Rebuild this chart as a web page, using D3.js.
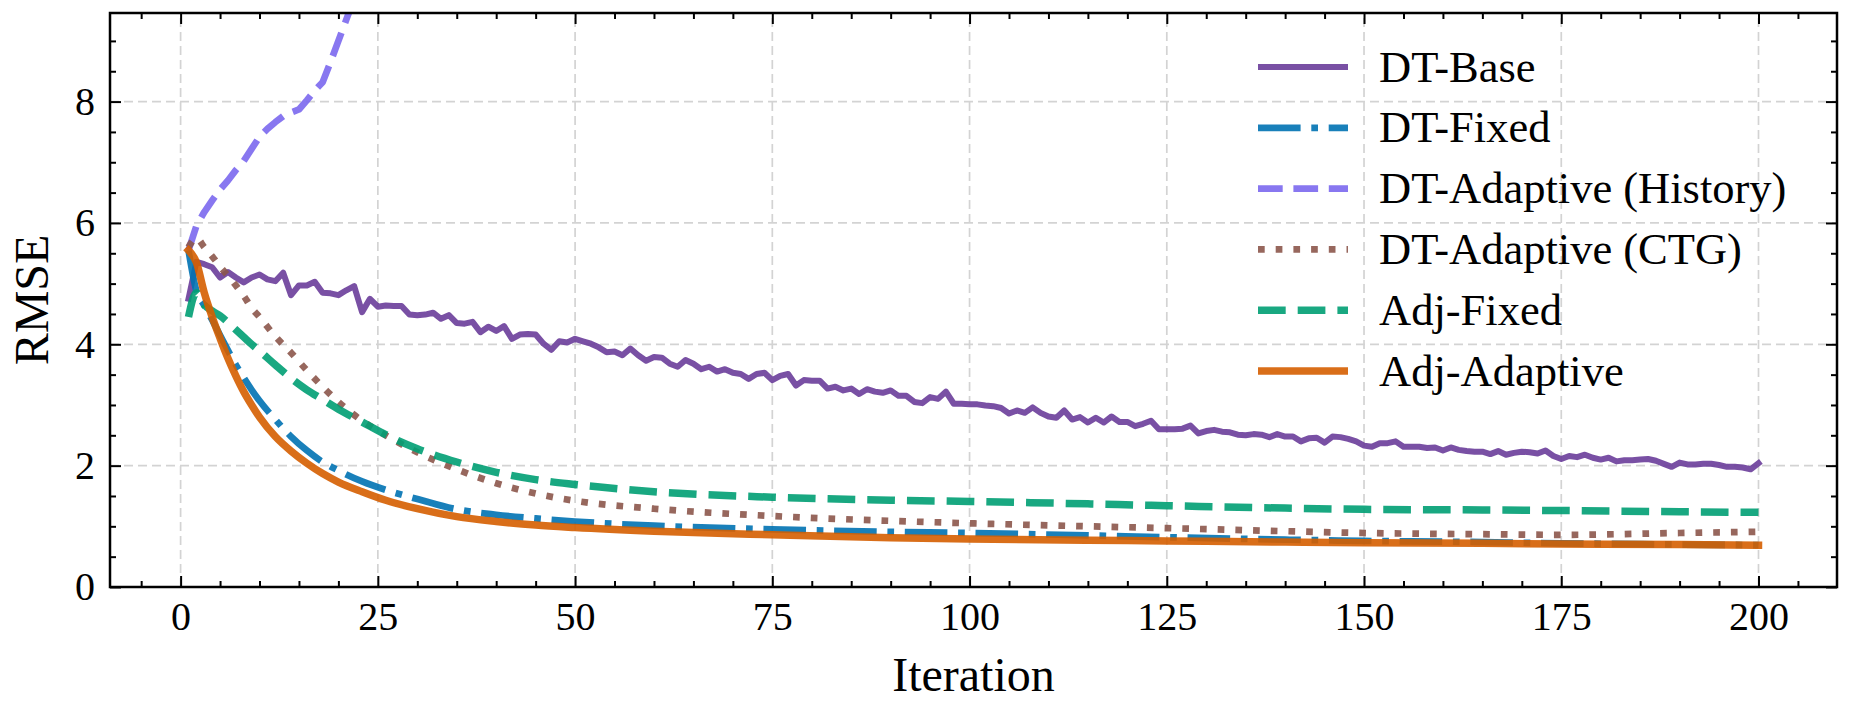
<!DOCTYPE html>
<html>
<head>
<meta charset="utf-8">
<script src="https://cdn.jsdelivr.net/npm/d3@7"></script>
<style>
  html, body { margin: 0; padding: 0; background: #ffffff; }
  svg { display: block; }
  text { font-family: "Liberation Serif", "Times New Roman", serif; fill: #000; }
</style>
</head>
<body>
<div id="chart"></div>
<script>
// ---------------- DATA ----------------
const seriesNames = ["DT-Base", "DT-Fixed", "DT-Adaptive (History)", "DT-Adaptive (CTG)", "Adj-Fixed", "Adj-Adaptive"];

// DT-Base: one value per iteration 1..200
const dtBaseIter = d3.range(1, 201);
const dtBaseValues = [
  4.75, 5.36, 5.32, 5.27, 5.10, 5.19, 5.10, 5.02, 5.10, 5.15,
  5.07, 5.04, 5.18, 4.81, 4.97, 4.97, 5.03, 4.85, 4.84, 4.81,
  4.89, 4.96, 4.53, 4.75, 4.62, 4.64, 4.63, 4.63, 4.49, 4.48,
  4.49, 4.52, 4.42, 4.48, 4.35, 4.34, 4.37, 4.20, 4.29, 4.22,
  4.30, 4.09, 4.16, 4.17, 4.16, 4.01, 3.91, 4.05, 4.03, 4.09,
  4.05, 4.01, 3.95, 3.87, 3.88, 3.82, 3.93, 3.82, 3.73, 3.79,
  3.78, 3.68, 3.63, 3.74, 3.68, 3.59, 3.63, 3.55, 3.59, 3.53,
  3.51, 3.43, 3.51, 3.53, 3.41, 3.48, 3.51, 3.32, 3.41, 3.40,
  3.40, 3.27, 3.30, 3.24, 3.27, 3.18, 3.26, 3.22, 3.20, 3.24,
  3.15, 3.15, 3.05, 3.03, 3.13, 3.10, 3.22, 3.02, 3.02, 3.01,
  3.01, 2.99, 2.98, 2.95, 2.86, 2.91, 2.87, 2.96, 2.87, 2.81,
  2.79, 2.91, 2.76, 2.80, 2.71, 2.79, 2.71, 2.81, 2.72, 2.72,
  2.65, 2.69, 2.74, 2.60, 2.60, 2.60, 2.61, 2.66, 2.53, 2.57,
  2.59, 2.56, 2.55, 2.51, 2.50, 2.52, 2.51, 2.47, 2.52, 2.48,
  2.48, 2.40, 2.45, 2.46, 2.38, 2.48, 2.47, 2.44, 2.40, 2.33,
  2.31, 2.37, 2.37, 2.40, 2.31, 2.31, 2.31, 2.29, 2.30, 2.25,
  2.30, 2.26, 2.24, 2.23, 2.23, 2.19, 2.24, 2.18, 2.21, 2.23,
  2.22, 2.20, 2.25, 2.16, 2.11, 2.16, 2.14, 2.18, 2.13, 2.10,
  2.13, 2.07, 2.09, 2.09, 2.10, 2.11, 2.08, 2.03, 1.98, 2.05,
  2.02, 2.02, 2.03, 2.03, 2.01, 1.98, 1.98, 1.97, 1.94, 2.04
];

// DT-Adaptive (History): diverges and leaves the axes
const historyIter = d3.range(1, 24);
const historyValues = [5.55, 5.95, 6.18, 6.37, 6.55, 6.70, 6.87, 7.02, 7.22, 7.42,
  7.55, 7.66, 7.76, 7.82, 7.87, 8.02, 8.18, 8.32, 8.65, 9.00, 9.35, 9.70, 10.10];

// Smooth series, read at these iterations
const smoothIter = [1, 2, 3, 4, 5, 6, 7, 8, 9, 10, 12, 14, 16, 18, 20, 23, 26, 30, 35, 40,
  45, 50, 60, 75, 90, 100, 115, 125, 140, 150, 165, 175, 190, 200];
const dtFixedValues = [5.55, 4.88, 4.64, 4.40, 4.15, 3.90, 3.66, 3.45, 3.25, 3.07,
  2.76, 2.48, 2.25, 2.06, 1.92, 1.74, 1.60, 1.45, 1.28, 1.19,
  1.13, 1.08, 1.01, 0.95, 0.91, 0.89, 0.85, 0.82, 0.78, 0.76, 0.74, 0.72, 0.70, 0.69];
const ctgValues = [5.60, 5.75, 5.60, 5.45, 5.28, 5.13, 4.97, 4.80, 4.60, 4.45,
  4.13, 3.86, 3.57, 3.30, 3.05, 2.74, 2.50, 2.22, 1.94, 1.71,
  1.54, 1.42, 1.29, 1.17, 1.09, 1.05, 1.00, 0.97, 0.92, 0.89, 0.87, 0.86, 0.89, 0.91];
const adjFixedValues = [4.45, 4.85, 4.65, 4.55, 4.47, 4.36, 4.24, 4.12, 4.00, 3.89,
  3.66, 3.44, 3.25, 3.09, 2.93, 2.72, 2.51, 2.28, 2.06, 1.89,
  1.77, 1.69, 1.57, 1.48, 1.43, 1.41, 1.37, 1.34, 1.30, 1.28, 1.27, 1.26, 1.24, 1.23];
const adjAdaptiveValues = [5.55, 5.35, 4.85, 4.45, 4.10, 3.77, 3.48, 3.22, 3.00, 2.80,
  2.48, 2.24, 2.04, 1.87, 1.73, 1.57, 1.43, 1.29, 1.16, 1.08,
  1.02, 0.98, 0.92, 0.86, 0.81, 0.79, 0.77, 0.76, 0.74, 0.73, 0.72, 0.71, 0.70, 0.69];

const xTicks = [0, 25, 50, 75, 100, 125, 150, 175, 200];
const yTicks = [0, 2, 4, 6, 8];
const xLabel = "Iteration";
const yLabel = "RMSE";

// ---------------- STYLE ----------------
const colors = ["#6a3d9a", "#0072b2", "#7b68ee", "#8c564b", "#009e73", "#d55e00"];
const widths = [6, 6.7, 6.7, 6.7, 7.5, 7.5];
const dashes = [null, "42.6,10.7,6.7,10.7", "24.7,10.7", "6.7,11", "27.7,12", null];
const curves = [d3.curveLinear, d3.curveMonotoneX, d3.curveLinear, d3.curveMonotoneX, d3.curveMonotoneX, d3.curveMonotoneX];

const W = 1852, H = 712;
const L = 110, R = 1837, T = 13, B = 587;

const svg = d3.select("#chart").append("svg").attr("width", W).attr("height", H);

const x = d3.scaleLinear().domain([-8.95, 209.95]).range([L, R]);
const y = d3.scaleLinear().domain([0, 9.46]).range([B, T]);

svg.append("defs").append("clipPath").attr("id", "clip")
  .append("rect").attr("x", L).attr("y", T).attr("width", R - L).attr("height", B - T);

// grid
const grid = svg.append("g").attr("stroke", "#d3d3d3").attr("stroke-width", 1.7).attr("stroke-dasharray", "9,5");
grid.selectAll("line.gx").data(xTicks).join("line")
  .attr("x1", d => x(d)).attr("x2", d => x(d)).attr("y1", B).attr("y2", T);
grid.selectAll("line.gy").data(yTicks.filter(d => d > 0)).join("line")
  .attr("y1", d => y(d)).attr("y2", d => y(d)).attr("x1", L).attr("x2", R);

// series
const seriesData = [
  dtBaseIter.map((it, i) => [it, dtBaseValues[i]]),
  smoothIter.map((it, i) => [it, dtFixedValues[i]]),
  historyIter.map((it, i) => [it, historyValues[i]]),
  smoothIter.map((it, i) => [it, ctgValues[i]]),
  smoothIter.map((it, i) => [it, adjFixedValues[i]]),
  smoothIter.map((it, i) => [it, adjAdaptiveValues[i]])
];

const plot = svg.append("g").attr("clip-path", "url(#clip)");
seriesData.forEach((data, k) => {
  const line = d3.line().x(d => x(d[0])).y(d => y(d[1])).curve(curves[k]);
  plot.append("path").datum(data)
    .attr("d", line)
    .attr("fill", "none")
    .attr("stroke", colors[k])
    .attr("stroke-opacity", 0.9)
    .attr("stroke-width", widths[k])
    .attr("stroke-linejoin", "round")
    .attr("stroke-linecap", dashes[k] ? "butt" : "square")
    .attr("stroke-dasharray", dashes[k]);
});

// axes (ticks inward)
const fontTick = 40;
const xMinor = d3.range(-5, 210, 5).filter(d => d % 25 !== 0);
const yMinor = d3.range(0.5, 9.5, 0.5).filter(d => d % 2 !== 0);

function styleAxis(g) {
  g.select(".domain").remove();
  g.selectAll(".tick line").attr("stroke", "#000").attr("stroke-width", 2);
  g.selectAll(".tick text").attr("font-size", fontTick).attr("font-family", "Liberation Serif, serif").attr("fill", "#000");
}

svg.append("g").attr("transform", `translate(0,${B})`)
  .call(d3.axisBottom(x).tickValues(xTicks).tickFormat(d3.format("d")).tickSize(-11).tickSizeOuter(0).tickPadding(15))
  .call(styleAxis);
svg.append("g").attr("transform", `translate(0,${B})`)
  .call(d3.axisBottom(x).tickValues(xMinor).tickFormat("").tickSize(-6).tickSizeOuter(0))
  .call(styleAxis);
svg.append("g").attr("transform", `translate(0,${T})`)
  .call(d3.axisTop(x).tickValues(xTicks).tickFormat("").tickSize(-11).tickSizeOuter(0))
  .call(styleAxis);
svg.append("g").attr("transform", `translate(0,${T})`)
  .call(d3.axisTop(x).tickValues(xMinor).tickFormat("").tickSize(-6).tickSizeOuter(0))
  .call(styleAxis);

svg.append("g").attr("transform", `translate(${L},0)`)
  .call(d3.axisLeft(y).tickValues(yTicks).tickFormat(d3.format("d")).tickSize(-11).tickSizeOuter(0).tickPadding(15))
  .call(styleAxis);
svg.append("g").attr("transform", `translate(${L},0)`)
  .call(d3.axisLeft(y).tickValues(yMinor).tickFormat("").tickSize(-6).tickSizeOuter(0))
  .call(styleAxis);
svg.append("g").attr("transform", `translate(${R},0)`)
  .call(d3.axisRight(y).tickValues(yTicks).tickFormat("").tickSize(-11).tickSizeOuter(0))
  .call(styleAxis);
svg.append("g").attr("transform", `translate(${R},0)`)
  .call(d3.axisRight(y).tickValues(yMinor).tickFormat("").tickSize(-6).tickSizeOuter(0))
  .call(styleAxis);

// frame
svg.append("rect").attr("x", L).attr("y", T).attr("width", R - L).attr("height", B - T)
  .attr("fill", "none").attr("stroke", "#000").attr("stroke-width", 2.5);

// axis labels
svg.append("text").attr("x", (L + R) / 2).attr("y", 691).attr("text-anchor", "middle")
  .attr("font-size", 48).text(xLabel);
svg.append("text").attr("transform", `translate(48,${(T + B) / 2}) rotate(-90)`)
  .attr("text-anchor", "middle").attr("font-size", 48).text(yLabel);

// legend
const legY0 = 67, legStep = 60.8;
const leg = svg.append("g");
seriesNames.forEach((name, k) => {
  const ly = legY0 + k * legStep;
  leg.append("line").attr("x1", 1258).attr("x2", 1348).attr("y1", ly).attr("y2", ly)
    .attr("stroke", colors[k]).attr("stroke-opacity", 0.9).attr("stroke-width", widths[k])
    .attr("stroke-dasharray", dashes[k]).attr("stroke-linecap", "butt");
  leg.append("text").attr("x", 1379).attr("y", ly + 14.5).attr("font-size", 44.5).text(name);
});
</script>
</body>
</html>
